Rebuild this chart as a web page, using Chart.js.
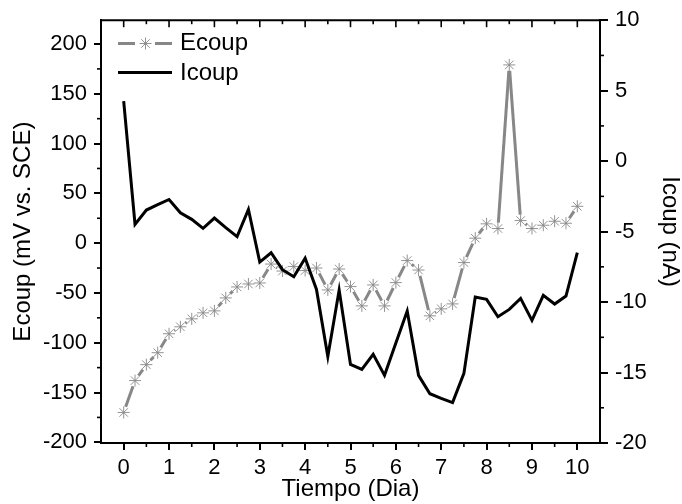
<!DOCTYPE html>
<html>
<head>
<meta charset="utf-8">
<script src="https://cdn.jsdelivr.net/npm/chart.js@4.4.1/dist/chart.umd.min.js"></script>
<style>
  html, body { margin: 0; padding: 0; background: #fff; }
  #wrap { width: 682px; height: 504px; }
</style>
</head>
<body>
<div id="wrap"><canvas id="c" width="682" height="504"></canvas></div>
<script>
// Sampling days (every 6 h over 10 days)
const days = [0, 0.25, 0.5, 0.75, 1, 1.25, 1.5, 1.75, 2, 2.25, 2.5, 2.75, 3, 3.25, 3.5, 3.75,
  4, 4.25, 4.5, 4.75, 5, 5.25, 5.5, 5.75, 6, 6.25, 6.5, 6.75, 7, 7.25, 7.5, 7.75,
  8, 8.25, 8.5, 8.75, 9, 9.25, 9.5, 9.75, 10];

// Coupled potential, mV vs. SCE
const ecoup = [-170, -138, -122, -110, -91, -84, -76, -70, -68, -55, -44, -41, -40, -21, -28, -23.5,
  -27.5, -25, -47, -26, -43.6, -63, -42, -63, -39.6, -17.5, -27, -73, -66, -61, -19.5, 5,
  19.4, 14.7, 179, 22.7, 14.7, 18, 22, 20, 37];

// Coupled current, nA
const icoup = [4.25, -4.49, -3.47, -3.09, -2.72, -3.66, -4.13, -4.77, -4.04, -4.72, -5.36, -3.43, -7.16, -6.5, -7.7, -8.2,
  -6.88, -9.1, -13.87, -9.15, -14.42, -14.77, -13.71, -15.2, -12.9, -10.64, -15.2, -16.5, -16.83, -17.13, -15.06, -9.65,
  -9.81, -11.04, -10.52, -9.74, -11.3, -9.52, -10.14, -9.57, -6.5];

// Axis ticks
const xTicks = [0, 1, 2, 3, 4, 5, 6, 7, 8, 9, 10];
const xMinor = [0.5, 1.5, 2.5, 3.5, 4.5, 5.5, 6.5, 7.5, 8.5, 9.5];
const leftTicks = [-200, -150, -100, -50, 0, 50, 100, 150, 200];
const leftMinor = [-175, -125, -75, -25, 25, 75, 125, 175];
const rightTicks = [-20, -15, -10, -5, 0, 5, 10];
const rightMinor = [-17.5, -12.5, -7.5, -2.5, 2.5, 7.5];

const GRAY = '#878787';
const FONT = "'Liberation Sans', Arial, sans-serif";

// Line broken just short of each symbol
function gapDash(c) {
  const L = Math.hypot(c.p1.x - c.p0.x, c.p1.y - c.p0.y);
  const g = 6;
  if (!isFinite(L) || L <= 2 * g) return [0, (L || 0) + 1];
  return [0, g, L - 2 * g, g];
}

// Minor ticks, top frame line and the inset legend
const framePlugin = {
  id: 'framePlugin',
  afterDraw(chart) {
    const { ctx, chartArea: a, scales } = chart;
    ctx.save();
    ctx.strokeStyle = '#000';
    ctx.lineCap = 'butt';

    ctx.lineWidth = 2;
    ctx.beginPath();
    ctx.moveTo(a.left - 1, a.top);
    ctx.lineTo(a.right + 1, a.top);
    ctx.stroke();

    const seg = (x1, y1, x2, y2) => { ctx.beginPath(); ctx.moveTo(x1, y1); ctx.lineTo(x2, y2); ctx.stroke(); };

    ctx.lineWidth = 1.6;
    xMinor.forEach(v => { const x = scales.x.getPixelForValue(v); seg(x, a.bottom, x, a.bottom + 4); seg(x, a.top, x, a.top + 4); });
    xTicks.forEach(v => { const x = scales.x.getPixelForValue(v); seg(x, a.top, x, a.top + 7); });
    leftMinor.forEach(v => { const y = scales.y.getPixelForValue(v); seg(a.left, y, a.left - 4, y); });
    rightMinor.forEach(v => { const y = scales.y1.getPixelForValue(v); seg(a.right, y, a.right + 4, y); });

    // legend
    const ds = chart.data.datasets;
    ctx.font = '24px ' + FONT;
    ctx.textBaseline = 'middle';
    ctx.textAlign = 'left';
    ctx.fillStyle = '#000';

    const e = ds[1];
    ctx.strokeStyle = e.borderColor;
    ctx.lineWidth = e.borderWidth;
    seg(118, 43.5, 135, 43.5);
    seg(155, 43.5, 172, 43.5);
    ctx.strokeStyle = e.pointBorderColor;
    ctx.lineWidth = e.pointBorderWidth;
    Chart.helpers.drawPoint(ctx, { pointStyle: 'star', radius: e.pointRadius, borderWidth: e.pointBorderWidth, rotation: 0 }, 145.5, 43.5);
    ctx.fillText(e.label, 180, 43.5);

    const i = ds[0];
    ctx.strokeStyle = i.borderColor;
    ctx.lineWidth = i.borderWidth;
    seg(118, 72.5, 172, 72.5);
    ctx.fillText(i.label, 180, 73);
    ctx.restore();
  }
};

new Chart(document.getElementById('c'), {
  type: 'line',
  data: {
    datasets: [
      {
        label: 'Icoup',
        data: days.map((d, k) => ({ x: d, y: icoup[k] })),
        yAxisID: 'y1',
        borderColor: '#000',
        borderWidth: 3,
        pointRadius: 0,
        tension: 0,
        fill: false
      },
      {
        label: 'Ecoup',
        data: days.map((d, k) => ({ x: d, y: ecoup[k] })),
        yAxisID: 'y',
        borderColor: GRAY,
        borderWidth: 3,
        pointStyle: 'star',
        pointRadius: 6,
        pointBorderWidth: 0.9,
        pointBorderColor: GRAY,
        pointBackgroundColor: 'rgba(0,0,0,0)',
        tension: 0,
        fill: false,
        segment: { borderDash: gapDash }
      }
    ]
  },
  options: {
    responsive: false,
    animation: false,
    events: [],
    layout: { padding: { top: 20, left: 0, right: 0, bottom: 0 } },
    plugins: { legend: { display: false }, tooltip: { enabled: false } },
    scales: {
      x: {
        type: 'linear',
        min: -0.5,
        max: 10.5,
        afterBuildTicks: s => { s.ticks = xTicks.map(v => ({ value: v })); },
        afterFit: s => { s.height = 61; },
        grid: { display: true, drawOnChartArea: false, drawTicks: true, tickLength: 7, color: '#000', lineWidth: 2 },
        border: { display: true, color: '#000', width: 2 },
        ticks: { color: '#000', font: { family: FONT, size: 22 }, padding: 5, maxRotation: 0, autoSkip: false, callback: v => String(v) },
        title: { display: true, text: 'Tiempo (Dia)', color: '#000', font: { family: FONT, size: 24 }, padding: { top: 0, bottom: 0 } }
      },
      y: {
        type: 'linear',
        position: 'left',
        min: -200.7,
        max: 223.9,
        afterBuildTicks: s => { s.ticks = leftTicks.map(v => ({ value: v })); },
        afterFit: s => { s.width = 101; },
        grid: { display: true, drawOnChartArea: false, drawTicks: true, tickLength: 7, color: '#000', lineWidth: 2 },
        border: { display: true, color: '#000', width: 2 },
        ticks: { color: '#000', font: { family: FONT, size: 22 }, padding: 7, autoSkip: false, callback: v => String(v) },
        title: { display: true, text: 'Ecoup (mV vs. SCE)', color: '#000', font: { family: FONT, size: 24 }, padding: { top: 9, bottom: 0 } }
      },
      y1: {
        type: 'linear',
        position: 'right',
        min: -20,
        max: 10,
        afterBuildTicks: s => { s.ticks = rightTicks.map(v => ({ value: v })); },
        afterFit: s => { s.width = 82; },
        grid: { display: true, drawOnChartArea: false, drawTicks: true, tickLength: 8, color: '#000', lineWidth: 2 },
        border: { display: true, color: '#000', width: 2 },
        ticks: { color: '#000', font: { family: FONT, size: 22 }, padding: 7, autoSkip: false, callback: v => String(v) },
        title: { display: true, text: 'Icoup (nA)', color: '#000', font: { family: FONT, size: 24 }, padding: { top: -2, bottom: 0 } }
      }
    }
  },
  plugins: [framePlugin]
});
</script>
</body>
</html>
